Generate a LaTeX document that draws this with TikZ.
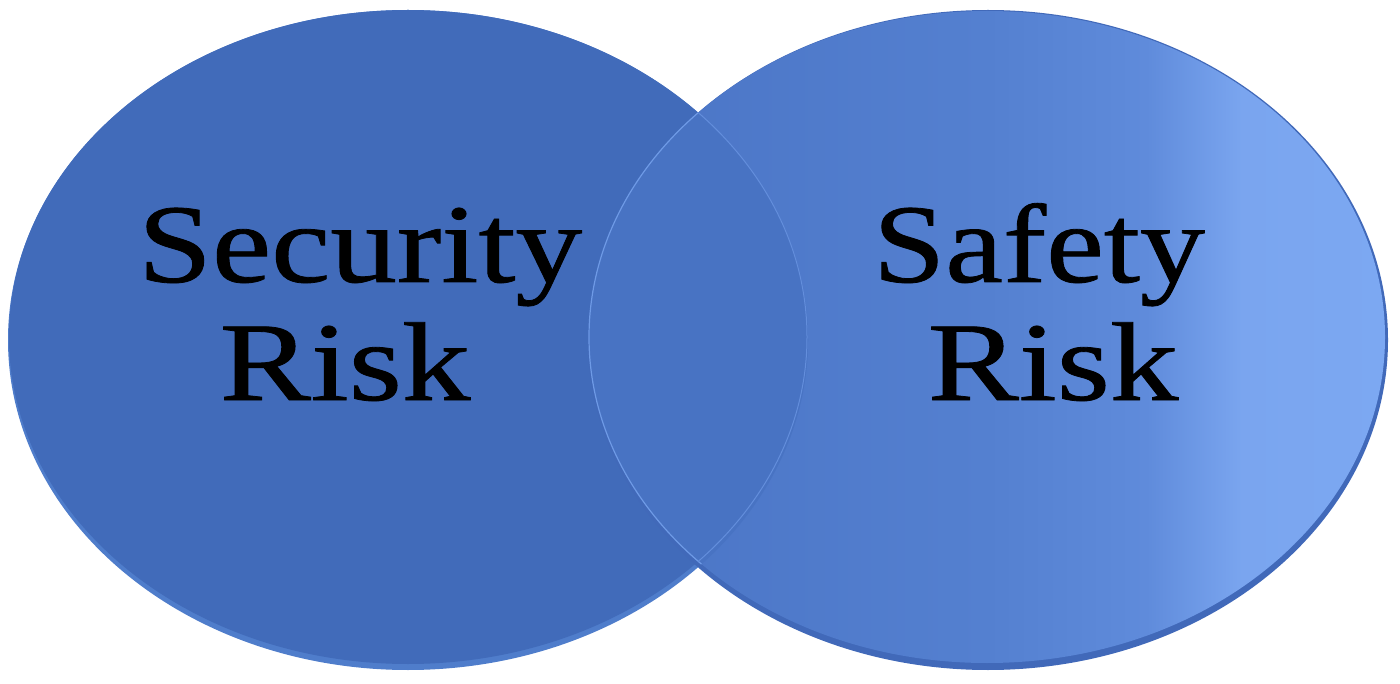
\documentclass[tikz,border=0pt]{standalone}
\usepackage{fontspec}
\setmainfont{Liberation Serif}
\newfontfamily\lblfont{Liberation Serif}[FakeBold=0.7]
\definecolor{leftface}{HTML}{416BBA}
\definecolor{leftrim}{HTML}{4F7DCB}
\definecolor{rightrim}{HTML}{4169B9}
\definecolor{lensface}{HTML}{4873C3}
\definecolor{lensline}{HTML}{6E9AE6}
\definecolor{rA}{HTML}{4A74C5}
\definecolor{rB}{HTML}{5480D0}
\definecolor{rC}{HTML}{5F8BDB}
\definecolor{rD}{HTML}{7AA5EF}
\definecolor{rE}{HTML}{7CA8F2}
\pgfdeclarehorizontalshading{rightface}{100bp}{color(0bp)=(rA); color(25bp)=(rA); color(50bp)=(rB); color(60bp)=(rC); color(66bp)=(rD); color(75bp)=(rE); color(100bp)=(rE)}
\tikzset{
  label text/.style={font=\lblfont\fontsize{112}{118}\selectfont, text=black, inner sep=0pt, anchor=base},
}
\begin{document}
\begin{tikzpicture}[x=1pt,y=-1pt]
\useasboundingbox (0,0) rectangle (1400,684);
% left disc
\fill[leftrim] (408,340) ellipse [x radius=400, y radius=330];
\fill[leftface] (408,337) ellipse [x radius=399, y radius=327];
% right disc
\fill[rightrim] (988,340) ellipse [x radius=400, y radius=330];
\shade[shading=rightface] (987,337) ellipse [x radius=398, y radius=326];
% lens overlap
\begin{scope}
  \clip (408,340) ellipse [x radius=400, y radius=330];
  \fill[lensface] (987,337) ellipse [x radius=398, y radius=326];
  \draw[lensline, line width=1.2pt] (987,337) ellipse [x radius=398, y radius=326];
\end{scope}
\begin{scope}
  \clip (987,337) ellipse [x radius=398, y radius=326];
  \draw[lensline!70!lensface, line width=1pt] (408,337) ellipse [x radius=399, y radius=327];
\end{scope}
% texts
\node[label text] (sec) at (360,282) {\scalebox{1.19}[1]{Security}};
\node[label text] (riskl) at (345,400) {\scalebox{1.22}[1]{Risk}};
\node[label text] (saf) at (1039,282) {\scalebox{1.16}[1]{Safety}};
\node[label text] (riskr) at (1053,400) {\scalebox{1.22}[1]{Risk}};
\end{tikzpicture}
\end{document}
